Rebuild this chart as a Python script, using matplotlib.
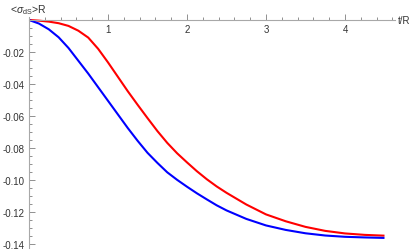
import matplotlib
matplotlib.use("Agg")
import matplotlib.pyplot as plt
from matplotlib.ticker import MultipleLocator, FixedLocator

t = [0, 0.125, 0.25, 0.375, 0.5, 0.625, 0.75, 0.875, 1.0, 1.125, 1.25, 1.375, 1.5, 1.625, 1.75,
     1.875, 2.0, 2.125, 2.25, 2.375, 2.5, 2.75, 3.0, 3.25, 3.5, 3.75, 4.0, 4.25, 4.5]
blue = [0, -0.0022, -0.0058, -0.0108, -0.0175, -0.0255, -0.0335, -0.042, -0.0505, -0.059, -0.0675,
        -0.0755, -0.083, -0.0893, -0.0952, -0.0999, -0.1042, -0.1083, -0.1121, -0.1158, -0.1190,
        -0.1243, -0.1284, -0.1312, -0.1333, -0.1347, -0.1355, -0.1359, -0.1362]
red = [0, -0.0004, -0.001, -0.002, -0.0037, -0.0067, -0.011, -0.018, -0.0265, -0.0355, -0.0445,
       -0.053, -0.0613, -0.0694, -0.0768, -0.0833, -0.0890, -0.0945, -0.0995, -0.1040, -0.1080,
       -0.1153, -0.1215, -0.1258, -0.1293, -0.1318, -0.1334, -0.1343, -0.1348]
xticks = [1, 2, 3, 4]
yticks = [-0.02, -0.04, -0.06, -0.08, -0.10, -0.12, -0.14]
ylabels = ["-0.02", "-0.04", "-0.06", "-0.08", "-0.10", "-0.12", "-0.14"]

plt.rcParams['font.family'] = ['Liberation Sans', 'DejaVu Sans']
plt.rcParams['mathtext.fontset'] = 'custom'
plt.rcParams['mathtext.rm'] = 'Liberation Sans'
plt.rcParams['mathtext.it'] = 'Liberation Sans:italic'

W, H = 415, 253
fig = plt.figure(figsize=(W / 100, H / 100), dpi=100)
x0, x1 = 29, 395
ytop, ybot = 17.8, 249
ax = fig.add_axes([x0 / W, 1 - ybot / H, (x1 - x0) / W, (ybot - ytop) / H])
ax.set_xlim(0, (x1 - x0) / 79)
ax.set_ylim(-(ybot - 21) / 1600, (21 - ytop) / 1600)

ax.plot(t, red, color=(1, 0, 0), lw=1.5, solid_capstyle='butt')
ax.plot(t, blue, color=(0, 0, 1), lw=1.5, solid_capstyle='butt')

axcol = '#a8a8a8'
ax.spines['left'].set_position(('data', 0))
ax.spines['bottom'].set_position(('data', 0))
ax.spines['right'].set_visible(False)
ax.spines['top'].set_visible(False)
for s in ('left', 'bottom'):
    ax.spines[s].set_color(axcol)
    ax.spines[s].set_linewidth(0.8)

ax.xaxis.set_major_locator(FixedLocator(xticks))
ax.xaxis.set_minor_locator(MultipleLocator(0.2))
ax.yaxis.set_major_locator(FixedLocator(yticks))
ax.set_yticklabels(ylabels)
ax.yaxis.set_minor_locator(MultipleLocator(0.005))
ax.tick_params(axis='both', which='both', direction='in', color='#909090',
               labelsize=7, labelcolor='#333333', width=0.7)
ax.tick_params(axis='both', which='major', length=4, pad=3)
ax.tick_params(axis='both', which='minor', length=2.2)

fig.text(398 / W, 1 - 21 / H, 't/R', fontsize=7, color='#333333', va='center', ha='left')
fig.text(10 / W, 1 - 10 / H, r'<$\mathit{\sigma}_{\rm dS}$>R', fontsize=7.5, color='#333333',
         va='center', ha='left')

fig.savefig('out.png', dpi=100)
